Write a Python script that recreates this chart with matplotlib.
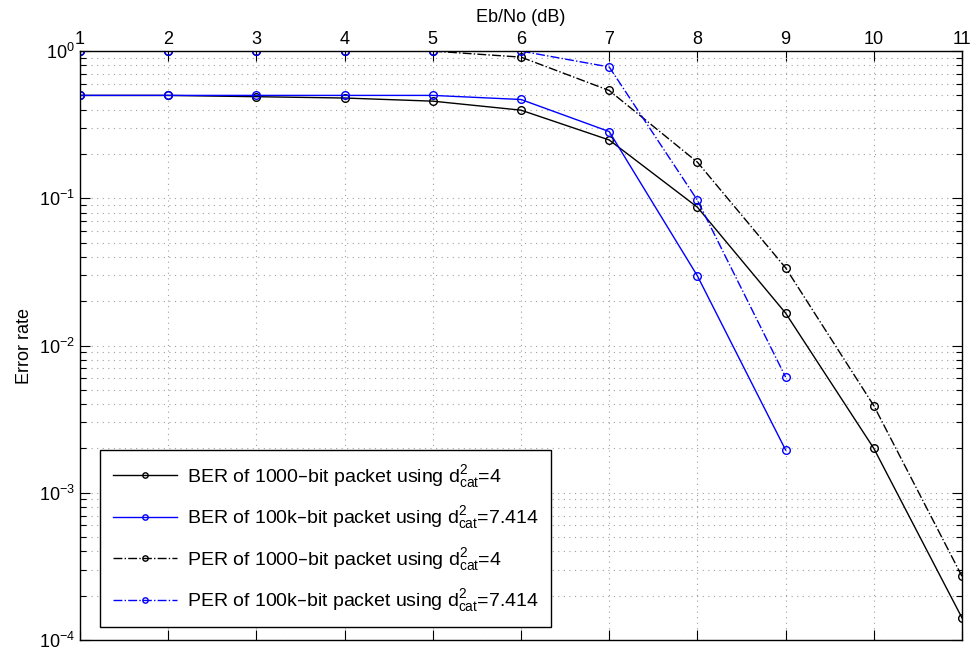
import matplotlib
matplotlib.use('Agg')
import matplotlib.pyplot as plt
import numpy as np
from matplotlib.ticker import LogLocator, NullFormatter

plt.rcParams['font.family'] = ['Liberation Sans', 'DejaVu Sans']

ebno = [1, 2, 3, 4, 5, 6, 7, 8, 9, 10, 11]
ber_1000 = [0.50, 0.50, 0.49, 0.48, 0.457, 0.397, 0.249, 0.087, 0.0166, 0.0020, 1.41e-4]
ber_100k = [0.50, 0.50, 0.50, 0.50, 0.50, 0.469, 0.284, 0.0297, 0.00195]
per_1000 = [1.0, 1.0, 1.0, 1.0, 1.0, 0.91, 0.54, 0.176, 0.0337, 0.0039, 2.7e-4]
per_100k = [1.0, 1.0, 1.0, 1.0, 1.0, 1.0, 0.78, 0.097, 0.0061]

labels = [
    r'BER of 1000–bit packet using $\mathregular{d^2_{cat}}$=4',
    r'BER of 100k–bit packet using $\mathregular{d^2_{cat}}$=7.414',
    r'PER of 1000–bit packet using $\mathregular{d^2_{cat}}$=4',
    r'PER of 100k–bit packet using $\mathregular{d^2_{cat}}$=7.414',
]

fig = plt.figure(figsize=(9.75, 6.55), dpi=100)
ax = fig.add_axes([0.082, 0.023, 0.9047, 0.899])

mk = dict(marker='o', markerfacecolor='none', markersize=5.5, markeredgewidth=1.0, linewidth=1.0)
ax.plot(ebno, ber_1000, color='black', linestyle='-', label=labels[0], **mk)
ax.plot(ebno[:len(ber_100k)], ber_100k, color='blue', linestyle='-', label=labels[1], **mk)
ax.plot(ebno, per_1000, color='black', linestyle='-.', label=labels[2], **mk)
ax.plot(ebno[:len(per_100k)], per_100k, color='blue', linestyle='-.', label=labels[3], **mk)

ax.set_yscale('log')
ax.set_xlim(1, 11)
ax.set_ylim(1e-4, 1)
ax.set_xticks(ebno)
ax.yaxis.set_major_locator(LogLocator(base=10, numticks=10))
ax.yaxis.set_minor_locator(LogLocator(base=10, subs=np.arange(2, 10), numticks=10))
ax.yaxis.set_minor_formatter(NullFormatter())

ax.xaxis.tick_top()
ax.xaxis.set_label_position('top')
ax.tick_params(which='both', direction='in', top=True, bottom=True, left=True, right=True,
               labelsize=13, width=0.8)
ax.tick_params(which='major', length=7)
ax.tick_params(which='minor', length=4)
ax.tick_params(axis='x', pad=2)

grid_style = dict(linestyle=(0, (1, 4)), color='#a0a0a0', linewidth=0.8)
ax.grid(True, which='major', **grid_style)
ax.grid(True, which='minor', axis='y', **grid_style)
for s in ax.spines.values():
    s.set_linewidth(1.0)

ax.set_xlabel('Eb/No (dB)', fontsize=13, labelpad=7)
ax.set_ylabel('Error rate', fontsize=13)

leg = ax.legend(loc='lower left', bbox_to_anchor=(0.0227, 0.022), borderaxespad=0,
                fontsize=14, fancybox=False, edgecolor='black', framealpha=1,
                handlelength=3.3, handletextpad=0.5, markerscale=0.7,
                borderpad=0.65, labelspacing=0.75)
leg.get_frame().set_linewidth(1.0)

fig.savefig('out.png', dpi=100)
